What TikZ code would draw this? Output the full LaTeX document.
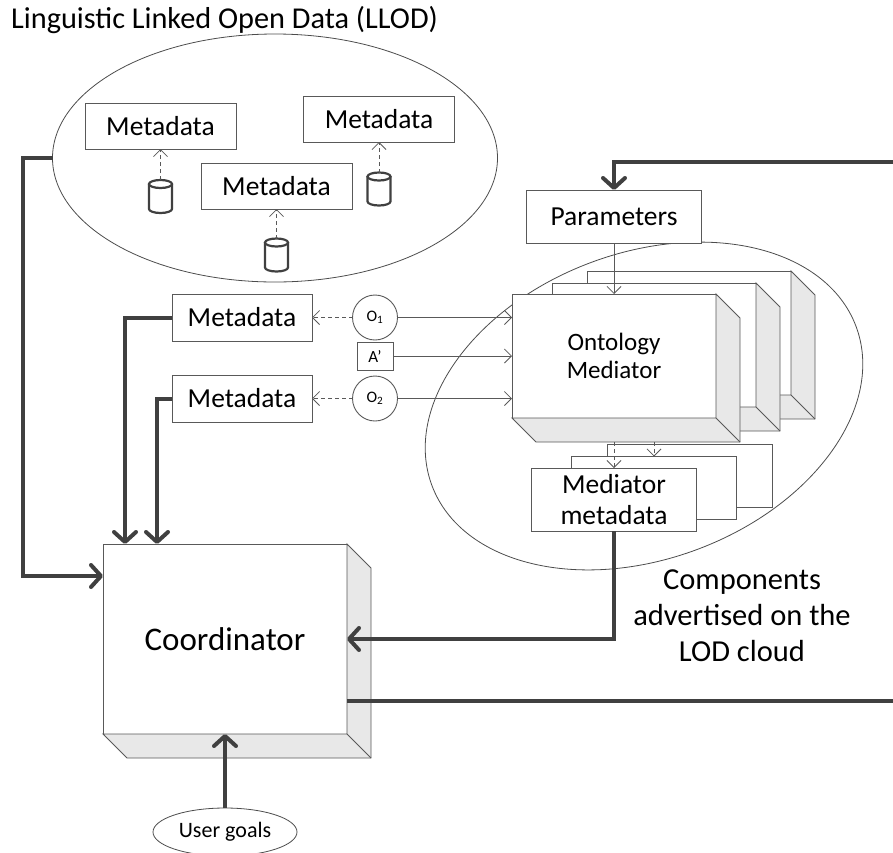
\documentclass[tikz,border=0pt]{standalone}
\usepackage{fontspec}
\setmainfont{Carlito}
\usetikzlibrary{arrows.meta,shapes.geometric,positioning}

\tikzset{
  box/.style={draw=black!65, fill=white, line width=0.9pt, inner sep=0pt, outer sep=0pt, align=center},
  side/.style={draw=black!65, fill=black!9, line width=0.9pt},
  meta/.style={box, font=\fontsize{27.5}{31}\selectfont, minimum width=151pt, minimum height=46pt},
  ring/.style={ellipse, draw=black!70, line width=0.8pt, inner sep=0pt, outer sep=0pt},
  db/.style={rectangle, minimum width=23pt, minimum height=33pt, inner sep=0pt, outer sep=0pt},
  dbline/.style={draw=black!75, fill=white, line width=2.2pt},
  circ/.style={circle, draw=black!65, line width=0.9pt, minimum size=45pt, inner sep=0pt, outer sep=0pt, font=\fontsize{16}{18}\selectfont},
  bigarrow/.style={draw=black!75, line width=4pt, -{Straight Barb[length=10pt,width=22pt,round]}},
  thinarrow/.style={draw=black!65, line width=0.8pt, -{Straight Barb[length=7pt,width=14pt]}},
  dasharrow/.style={draw=black!65, line width=0.8pt, dash pattern=on 4pt off 3pt, -{Straight Barb[length=7pt,width=14pt]}}
}

\newcommand{\boxsides}[1]{%
  \filldraw[side] (#1.north east) -- ([shift={(24,24)}]#1.north east) -- ([shift={(24,24)}]#1.south east)
    -- ([shift={(24,24)}]#1.south west) -- (#1.south west) -- (#1.south east) -- cycle;
  \draw[side] (#1.south east) -- ([shift={(24,24)}]#1.south east);
}
\newcommand{\dbshape}[1]{%
  \filldraw[dbline] ([shift={(0,4)}]#1.north west) -- ([shift={(0,-4)}]#1.south west)
    arc[start angle=180, end angle=0, x radius=11.5, y radius=4] -- ([shift={(0,4)}]#1.north east);
  \draw[dbline] ([shift={(0,4)}]#1.north) ellipse[x radius=11.5, y radius=4];
}

\begin{document}
\begin{tikzpicture}[x=1pt, y=-1pt]
  \useasboundingbox (0,0) rectangle (893,852);

  \node[anchor=base west, inner sep=0pt, font=\fontsize{30.3}{35}\selectfont] (title) at (11,28) {Linguistic Linked Open Data (LLOD)};

  \node[ring, minimum width=445pt, minimum height=248pt] (llod) at (275,158) {};
  \node[ring, minimum width=453pt, minimum height=306pt, rotate=20.6] (lod) at (644,406) {};

  % LLOD sources
  \node[meta] (md1) at (160.5,126) {Metadata};
  \node[meta] (md2) at (379,119) {Metadata};
  \node[meta] (md3) at (276.5,186) {Metadata};
  \node[db] (db1) at (160.5,196.5) {};
  \node[db] (db2) at (379,189) {};
  \node[db] (db3) at (276.5,255) {};
  \dbshape{db1}
  \dbshape{db2}
  \dbshape{db3}
  \draw[dasharrow] (db1.north) -- (md1.south);
  \draw[dasharrow] (db2.north) -- (md2.south);
  \draw[dasharrow] (db3.north) -- (md3.south);

  \node[meta, minimum width=140pt, minimum height=47pt] (mdA) at (242,317.5) {Metadata};
  \node[meta, minimum width=140pt, minimum height=47pt] (mdB) at (242,398.5) {Metadata};
  \node[circ] (o1) at (375,317.5) {O\textsubscript{1}};
  \node[box, font=\fontsize{17}{19}\selectfont, minimum width=36pt, minimum height=28pt] (ap) at (375,356) {A’};
  \node[circ] (o2) at (375,398.5) {O\textsubscript{2}};

  % mediator stack
  \node[box, minimum width=204pt, minimum height=124pt] (onto3) at (689,333) {};
  \boxsides{onto3}
  \node[box, minimum width=204pt, minimum height=124pt] (onto2) at (654,345) {};
  \boxsides{onto2}
  \node[box, minimum width=204pt, minimum height=124pt, font=\fontsize{25}{28}\selectfont] (onto1) at (614,356) {Ontology\\Mediator};
  \boxsides{onto1}

  \node[meta, minimum width=175pt, minimum height=53pt] (param) at (614,216.5) {Parameters};

  \node[box, minimum width=165pt, minimum height=63pt] (mm3) at (689.5,476) {};
  \node[box, minimum width=165pt, minimum height=63pt] (mm2) at (654,488) {};
  \node[meta, minimum width=165pt, minimum height=63pt] (mm1) at (614,499.5) {Mediator\\metadata};

  \node[box, font=\fontsize{33}{38}\selectfont, minimum width=244pt, minimum height=190pt] (coord) at (225,639) {Coordinator};
  \boxsides{coord}

  \node[ring, font=\fontsize{22}{24}\selectfont, minimum width=144pt, minimum height=48pt] (goals) at (225,832) {User goals};
  \node[align=center, inner sep=0pt, font=\fontsize{30.5}{36}\selectfont] (lodlabel) at (742,616) {Components\\advertised on the\\LOD cloud};

  \draw[thinarrow] (param.south) -- (onto1.north);
  \draw[thinarrow] (o1.east) -- (o1 -| onto1.west);
  \draw[thinarrow] (ap.east) -- (ap -| onto1.west);
  \draw[thinarrow] (o2.east) -- (o2 -| onto1.west);
  \draw[dasharrow] (o1.west) -- (mdA.east);
  \draw[dasharrow] (o2.west) -- (mdB.east);
  \draw[dasharrow] ([shift={(0,24)}]onto1.south) -- (mm1.north);
  \draw[dasharrow] ([shift={(40,24)}]onto1.south) -- (mm2.north);

  \draw[bigarrow] (llod.west) -- ++(-30,0) |- ([shift={(0,32)}]coord.north west);
  \draw[bigarrow] (mdA.west) -| ([shift={(22,0)}]coord.north west);
  \draw[bigarrow] (mdB.west) -| ([shift={(54,0)}]coord.north west);
  \draw[bigarrow] (mm1.south) |- (coord.east);
  \draw[bigarrow] ([shift={(0,62)}]coord.east) -| ++(570,-539) -| (param.north);
  \draw[bigarrow] (goals.north) -- (coord.south);
\end{tikzpicture}
\end{document}
